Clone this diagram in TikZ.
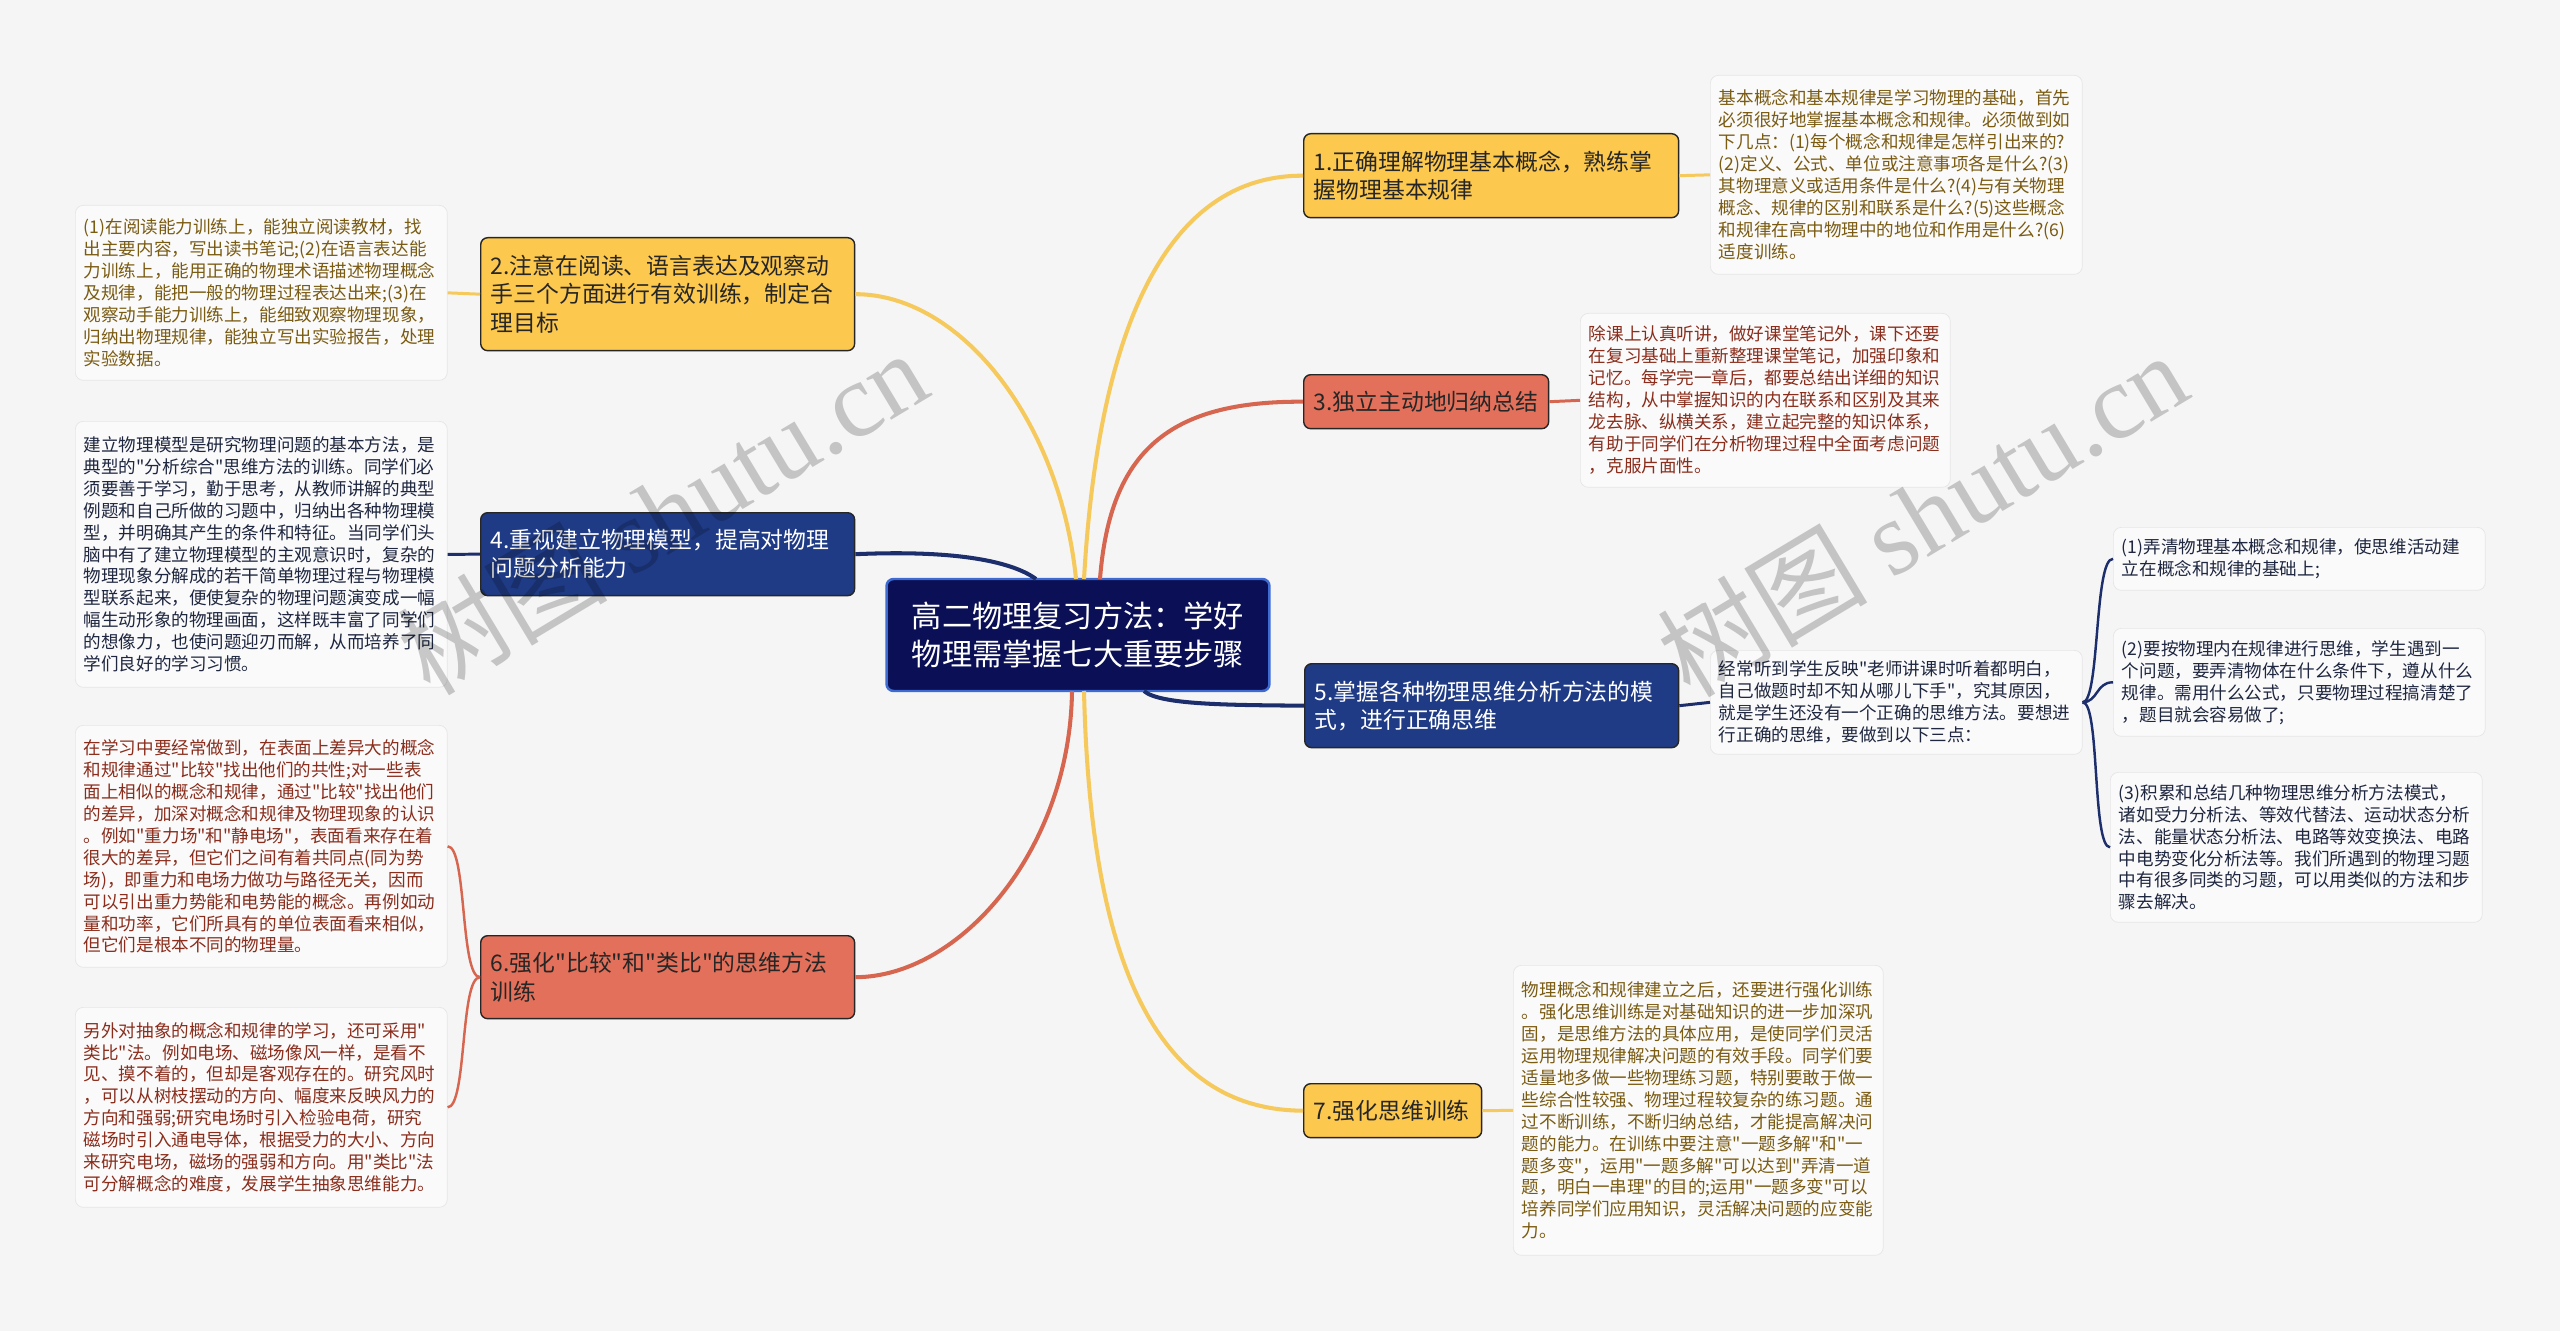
\documentclass[tikz,border=0pt]{standalone}
\usepackage{fontspec}
\setmainfont{Noto Sans CJK SC}[Ligatures=TeXOff]
\newfontfamily\wmfont{Liberation Serif}
\usepackage{xcolor}

\definecolor{bgcol}{HTML}{F5F5F5}
\definecolor{yfill}{HTML}{FCC84E}
\definecolor{yline}{HTML}{F6C95C}
\definecolor{ytext}{HTML}{7A5B12}
\definecolor{rfill}{HTML}{E3705A}
\definecolor{rline}{HTML}{D6664F}
\definecolor{rtext}{HTML}{8A2D1C}
\definecolor{nfill}{HTML}{1F3B86}
\definecolor{nline}{HTML}{1C2E6B}
\definecolor{ntext}{HTML}{1E2640}
\definecolor{cfill}{HTML}{0B1056}
\definecolor{cline}{HTML}{3D6BD2}
\definecolor{leaffill}{HTML}{FAFAFA}
\definecolor{leafline}{HTML}{E6E6E6}

\begin{document}
\begin{tikzpicture}[
        x=0.02cm, y=-0.02cm,
        topic/.style={draw=black!85, line width=0.8pt, rounded corners=0.14cm, anchor=north west,
            align=left, inner xsep=0.2cm, font=\fontsize{13}{16}\selectfont},
        ybox/.style={topic, fill=yfill, text=black!85},
        rbox/.style={topic, fill=rfill, text=black!85},
        nbox/.style={topic, fill=nfill, text=white},
        leaf/.style={draw=leafline, fill=leaffill, rounded corners=0.16cm, anchor=north west,
            align=left, inner xsep=0.17cm, text width=7.1cm, font=\fontsize{10}{12.5}\selectfont},
        ylink/.style={draw=yline, line width=2.3pt},
        rlink/.style={draw=rline, line width=2.3pt},
        nlink/.style={draw=nline, line width=2.3pt},
        wmark/.style={text=black, opacity=0.2, font=\fontsize{60}{60}\selectfont, rotate=31}
      ]
        % background
        \fill[bgcol] (0,0) rectangle (2560,1331);

        % root
        \node[draw=cline, line width=1.4pt, fill=cfill, text=white, rounded corners=0.14cm,
            minimum width=7.66cm, minimum height=2.24cm, align=center,
            font=\fontsize{17.2}{21.6}\selectfont] (root) at (1078,635)
            {高二物理复习方法：学好\\物理需掌握七大重要步骤};

        % topics
        \node[ybox, text width=7.1cm, minimum height=1.68cm] (n1) at (1303,133) {1.正确理解物理基本概念，熟练掌\\握物理基本规律};
        \node[ybox, text width=7.08cm, minimum height=2.26cm] (n2) at (480,237) {2.注意在阅读、语言表达及观察动\\手三个方面进行有效训练，制定合\\理目标};
        \node[rbox, text width=4.5cm, minimum height=1.08cm] (n3) at (1303,374) {3.独立主动地归纳总结};
        \node[nbox, text width=7.08cm, minimum height=1.66cm] (n4) at (480,512) {4.重视建立物理模型，提高对物理\\问题分析能力};
        \node[nbox, text width=7.08cm, minimum height=1.68cm] (n5) at (1304,663) {5.掌握各种物理思维分析方法的模\\式，进行正确思维};
        \node[rbox, text width=7.08cm, minimum height=1.66cm] (n6) at (480,935) {6.强化"比较"和"类比"的思维方法\\训练};
        \node[ybox, text width=3.16cm, minimum height=1.08cm] (n7) at (1303,1083) {7.强化思维训练};

        % details
        \node[leaf, text=ytext, minimum height=3.98cm] (l1) at (1710,75)
            {基本概念和基本规律是学习物理的基础，首先\\必须很好地掌握基本概念和规律。必须做到如\\下几点：(1)每个概念和规律是怎样引出来的?\\(2)定义、公式、单位或注意事项各是什么?(3)\\其物理意义或适用条件是什么?(4)与有关物理\\概念、规律的区别和联系是什么?(5)这些概念\\和规律在高中物理中的地位和作用是什么?(6)\\适度训练。};
        \node[leaf, text=ytext, minimum height=3.5cm] (l2) at (75,205)
            {(1)在阅读能力训练上，能独立阅读教材，找\\出主要内容，写出读书笔记;(2)在语言表达能\\力训练上，能用正确的物理术语描述物理概念\\及规律，能把一般的物理过程表达出来;(3)在\\观察动手能力训练上，能细致观察物理现象，\\归纳出物理规律，能独立写出实验报告，处理\\实验数据。};
        \node[leaf, text=rtext, text width=7.06cm, minimum height=3.48cm] (l3) at (1580,313)
            {除课上认真听讲，做好课堂笔记外，课下还要\\在复习基础上重新整理课堂笔记，加强印象和\\记忆。每学完一章后，都要总结出详细的知识\\结构，从中掌握知识的内在联系和区别及其来\\龙去脉、纵横关系，建立起完整的知识体系，\\有助于同学们在分析物理过程中全面考虑问题\\，克服片面性。};
        \node[leaf, text=ntext, minimum height=5.32cm] (l4) at (75,421)
            {建立物理模型是研究物理问题的基本方法，是\\典型的"分析综合"思维方法的训练。同学们必\\须要善于学习，勤于思考，从教师讲解的典型\\例题和自己所做的习题中，归纳出各种物理模\\型，并明确其产生的条件和特征。当同学们头\\脑中有了建立物理模型的主观意识时，复杂的\\物理现象分解成的若干简单物理过程与物理模\\型联系起来，便使复杂的物理问题演变成一幅\\幅生动形象的物理画面，这样既丰富了同学们\\的想像力，也使问题迎刃而解，从而培养了同\\学们良好的学习习惯。};
        \node[leaf, text=ntext, minimum height=2.08cm] (l5) at (1710,650)
            {经常听到学生反映"老师讲课时听着都明白，\\自己做题时却不知从哪儿下手"，究其原因，\\就是学生还没有一个正确的思维方法。要想进\\行正确的思维，要做到以下三点：};
        \node[leaf, text=ntext, minimum height=1.26cm] (l5a) at (2113,527)
            {(1)弄清物理基本概念和规律，使思维活动建\\立在概念和规律的基础上;};
        \node[leaf, text=ntext, minimum height=2.16cm] (l5b) at (2113,628)
            {(2)要按物理内在规律进行思维，学生遇到一\\个问题，要弄清物体在什么条件下，遵从什么\\规律。需用什么公式，只要物理过程搞清楚了\\，题目就会容易做了;};
        \node[leaf, text=ntext, minimum height=3.0cm] (l5c) at (2110,772)
            {(3)积累和总结几种物理思维分析方法模式，\\诸如受力分析法、等效代替法、运动状态分析\\法、能量状态分析法、电路等效变换法、电路\\中电势变化分析法等。我们所遇到的物理习题\\中有很多同类的习题，可以用类似的方法和步\\骤去解决。};
        \node[leaf, text=rtext, minimum height=4.84cm] (l6a) at (75,725)
            {在学习中要经常做到，在表面上差异大的概念\\和规律通过"比较"找出他们的共性;对一些表\\面上相似的概念和规律，通过"比较"找出他们\\的差异，加深对概念和规律及物理现象的认识\\。例如"重力场"和"静电场"，表面看来存在着\\很大的差异，但它们之间有着共同点(同为势\\场)，即重力和电场力做功与路径无关，因而\\可以引出重力势能和电势能的概念。再例如动\\量和功率，它们所具有的单位表面看来相似，\\但它们是根本不同的物理量。};
        \node[leaf, text=rtext, minimum height=4.0cm] (l6b) at (75,1007)
            {另外对抽象的概念和规律的学习，还可采用"\\类比"法。例如电场、磁场像风一样，是看不\\见、摸不着的，但却是客观存在的。研究风时\\，可以从树枝摆动的方向、幅度来反映风力的\\方向和强弱;研究电场时引入检验电荷，研究\\磁场时引入通电导体，根据受力的大小、方向\\来研究电场，磁场的强弱和方向。用"类比"法\\可分解概念的难度，发展学生抽象思维能力。};
        \node[leaf, text=ytext, text width=7.06cm, minimum height=5.8cm] (l7) at (1513,965)
            {物理概念和规律建立之后，还要进行强化训练\\。强化思维训练是对基础知识的进一步加深巩\\固，是思维方法的具体应用，是使同学们灵活\\运用物理规律解决问题的有效手段。同学们要\\适量地多做一些物理练习题，特别要敢于做一\\些综合性较强、物理过程较复杂的练习题。通\\过不断训练，不断归纳总结，才能提高解决问\\题的能力。在训练中要注意"一题多解"和"一\\题多变"，运用"一题多解"可以达到"弄清一道\\题，明白一串理"的目的;运用"一题多变"可以\\培养同学们应用知识，灵活解决问题的应变能\\力。};

        % branch ends on the root
        \coordinate (rt1) at (1084,579);
        \coordinate (rt2) at (1076,579);
        \coordinate (rt3) at (1100,579);
        \coordinate (rt4) at (1036,579);
        \coordinate (rb5) at (1144,691);
        \coordinate (rb6) at (1072,691);
        \coordinate (rb7) at (1084,691);

        \draw[ylink] (rt1) .. controls (1100,300) and (1180,175) .. (n1.west);
        \draw[ylink] (n2.east) .. controls (960,294) and (1060,420) .. (rt2);
        \draw[rlink] (rt3) .. controls (1110,450) and (1170,401) .. (n3.west);
        \draw[nlink] (n4.east) .. controls (950,550) and (1010,560) .. (rt4);
        \draw[nlink] (rb5) .. controls (1160,705) and (1230,705) .. (n5.west);
        \draw[rlink] (rb6) .. controls (1070,850) and (960,977) .. (n6.east);
        \draw[ylink] (rb7) .. controls (1090,950) and (1150,1110) .. (n7.west);

        \draw[ylink, line width=1.7pt] (n1.east) -- (l1.west);
        \draw[ylink, line width=1.7pt] (n2.west) -- (l2.east);
        \draw[rlink, line width=1.7pt] (n3.east) -- (l3.west);
        \draw[nlink, line width=1.7pt] (n4.west) -- (l4.east);
        \draw[nlink, line width=1.7pt] (n5.east) -- (l5.west);
        \draw[ylink, line width=1.7pt] (n7.east) -- (l7.west);
        \draw[rlink, line width=1.4pt] (n6.west) .. controls (460,977) and (467,846) .. (l6a.east);
        \draw[rlink, line width=1.4pt] (n6.west) .. controls (460,977) and (467,1107) .. (l6b.east);
        \draw[nlink, line width=1.4pt] (l5.east) .. controls (2100,702) and (2094,558) .. (l5a.west);
        \draw[nlink, line width=1.4pt] (l5.east) .. controls (2098,702) and (2096,682) .. (l5b.west);
        \draw[nlink, line width=1.4pt] (l5.east) .. controls (2100,702) and (2092,847) .. (l5c.west);

        % watermarks
        \node[wmark] (wm1) at (662,512) {树图 {\wmfont shutu.cn}};
        \node[wmark] (wm2) at (1922,514) {树图 {\wmfont shutu.cn}};
    \end{tikzpicture}
\end{document}
